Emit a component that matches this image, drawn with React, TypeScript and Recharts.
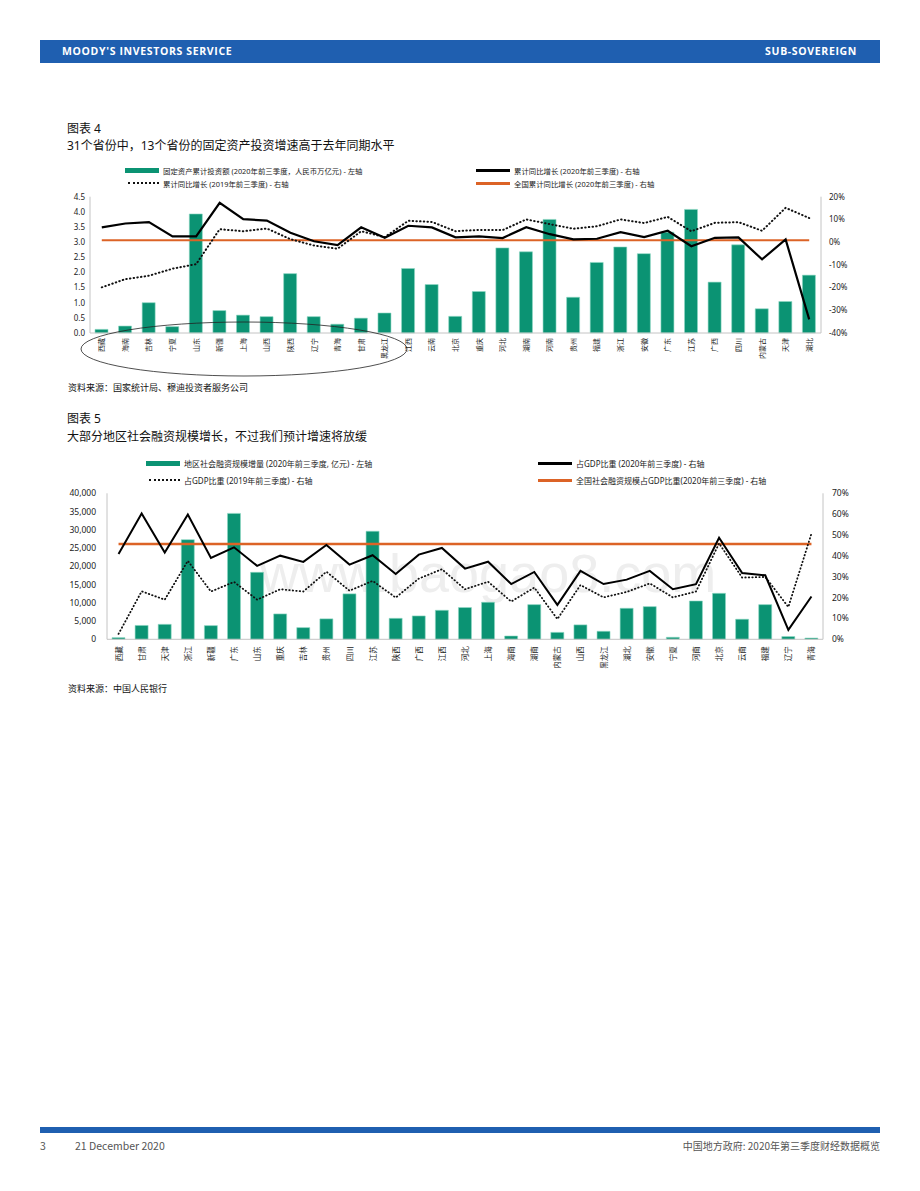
import { ComposedChart, Bar, Line, XAxis, YAxis, ReferenceLine } from 'recharts'

const FONT = '"Noto Sans", "Noto Sans CJK SC", sans-serif'
const GREEN = '#0b9373'
const ORANGE = '#dc6326'
const AXIS = '#c4c4c4'

// 图表 4: 固定资产投资
const faiProvinces = ['西藏', '海南', '吉林', '宁夏', '山东', '新疆', '上海', '山西', '陕西', '辽宁', '青海', '甘肃', '黑龙江', '江西', '云南', '北京', '重庆', '河北', '湖南', '河南', '贵州', '福建', '浙江', '安徽', '广东', '江苏', '广西', '四川', '内蒙古', '天津', '湖北']
const faiInvest = [0.12, 0.23, 1.0, 0.21, 3.93, 0.74, 0.59, 0.54, 1.96, 0.54, 0.29, 0.49, 0.66, 2.13, 1.6, 0.55, 1.37, 2.81, 2.68, 3.75, 1.18, 2.33, 2.84, 2.62, 3.33, 4.08, 1.68, 2.91, 0.8, 1.04, 1.91]
const faiGrowth2020 = [6.5, 8.2, 8.8, 2.5, 2.5, 17.3, 10.1, 9.5, 4.1, 0.4, -1.3, 6.5, 1.9, 7.2, 6.5, 2.1, 2.5, 1.8, 6.6, 3.5, 1.2, 1.5, 4.4, 2.2, 5.0, -1.8, 1.9, 2.1, -7.6, 1.2, -34.0]
const faiGrowth2019 = [-19.9, -16.3, -14.8, -11.7, -9.7, 5.7, 4.8, 6.0, 1.3, -1.5, -2.9, 4.8, 2.2, 9.4, 8.9, 4.8, 5.4, 5.3, 10.0, 7.9, 5.9, 7.0, 10.0, 8.4, 11.1, 4.8, 8.5, 8.8, 5.0, 15.1, 10.6]
const faiNational = 0.8
const faiLeftTicks = [0, 0.5, 1, 1.5, 2, 2.5, 3, 3.5, 4, 4.5]
const faiRightTicks = [-40, -30, -20, -10, 0, 10, 20]

// 图表 5: 社会融资规模
const tsfProvinces = ['西藏', '甘肃', '天津', '浙江', '新疆', '广东', '山东', '重庆', '吉林', '贵州', '四川', '江苏', '陕西', '广西', '江西', '河北', '上海', '海南', '湖南', '内蒙古', '山西', '黑龙江', '湖北', '安徽', '宁夏', '河南', '北京', '云南', '福建', '辽宁', '青海']
const tsfIncrease = [450, 3800, 4100, 27300, 3750, 34500, 18350, 6950, 3200, 5600, 12450, 29600, 5750, 6400, 7950, 8700, 10150, 900, 9500, 1900, 3950, 2200, 8500, 8950, 550, 10500, 12600, 5500, 9500, 750, 350]
const tsfRatio2020 = [40.9, 60.3, 41.6, 59.8, 39.0, 44.1, 35.2, 40.1, 37.1, 45.2, 35.8, 40.3, 31.3, 40.6, 43.8, 33.9, 37.2, 26.5, 32.3, 16.5, 32.8, 26.5, 28.6, 32.8, 24.0, 26.4, 48.7, 31.8, 30.7, 4.5, 20.5]
const tsfRatio2019 = [2.6, 23.0, 19.0, 37.6, 22.9, 27.5, 19.0, 24.0, 22.9, 32.4, 23.3, 28.0, 20.0, 29.1, 33.6, 24.0, 27.6, 18.1, 24.8, 9.7, 26.0, 20.1, 22.7, 26.8, 20.1, 22.9, 46.0, 29.6, 29.9, 15.5, 50.7]
const tsfNational = 45.7
const tsfLeftTicks = [0, 5000, 10000, 15000, 20000, 25000, 30000, 35000, 40000]
const tsfRightTicks = [0, 10, 20, 30, 40, 50, 60, 70]

const faiData = faiProvinces.map((name, i) => ({
  name,
  invest: faiInvest[i],
  g2020: faiGrowth2020[i],
  g2019: faiGrowth2019[i],
}))

const tsfData = tsfProvinces.map((name, i) => ({
  name,
  amount: tsfIncrease[i],
  r2020: tsfRatio2020[i],
  r2019: tsfRatio2019[i],
}))

function VerticalTick(props: any) {
  const { x, y, payload, size, gap } = props
  const ty = y + gap
  return (
    <text
      x={x}
      y={ty}
      transform={`rotate(-90 ${x} ${ty})`}
      textAnchor="end"
      dominantBaseline="central"
      fontSize={size}
      fill="#222"
      fontFamily={FONT}
    >
      {payload.value}
    </text>
  )
}

function LegendItem({ x, y, kind, label, size }: { x: number; y: number; kind: string; label: string; size: number }) {
  let swatch
  if (kind === 'bar') {
    swatch = <div style={{ width: 34, height: 5, background: GREEN }} />
  } else if (kind === 'dot') {
    swatch = <div style={{ width: 31, height: 0, borderTop: '2px dotted #111' }} />
  } else {
    swatch = <div style={{ width: 34, height: 3, background: kind === 'orange' ? ORANGE : '#000' }} />
  }
  return (
    <div
      style={{
        position: 'absolute',
        left: x,
        top: y - 7,
        height: 14,
        display: 'flex',
        alignItems: 'center',
        gap: 4,
        fontSize: size,
        fontFamily: FONT,
        color: '#222',
        whiteSpace: 'nowrap',
      }}
    >
      {swatch}
      <span>{label}</span>
    </div>
  )
}

const text = (left: number, top: number, size: number, content: string, extra: any = {}) => (
  <div style={{ position: 'absolute', left, top, fontSize: size, fontFamily: FONT, color: '#111', whiteSpace: 'nowrap', lineHeight: 1, ...extra }}>
    {content}
  </div>
)

const FOOT_FONT = '"Liberation Sans Narrow", "Noto Sans CJK SC", sans-serif'

export default function App() {
  return (
    <div style={{ position: 'absolute', left: 0, top: 0, width: 920, height: 1191, background: '#fff', overflow: 'hidden' }}>
      {/* header */}
      <div style={{ position: 'absolute', left: 40, top: 40, width: 840, height: 23, background: '#1f5fb0' }} />
      {text(62, 46, 10.5, "MOODY'S INVESTORS SERVICE", { color: '#fff', fontWeight: 700, fontFamily: '"Open Sans", sans-serif', letterSpacing: 0.65 })}
      <div style={{ position: 'absolute', right: 63, top: 46, fontSize: 10.5, fontWeight: 700, color: '#fff', fontFamily: '"Open Sans", sans-serif', letterSpacing: 0.65, lineHeight: 1 }}>
        SUB-SOVEREIGN
      </div>

      {/* 图表 4 */}
      {text(67, 123, 12, '图表 4')}
      {text(67, 140, 12, '31个省份中，13个省份的固定资产投资增速高于去年同期水平')}
      <LegendItem x={125} y={170} kind="bar" size={7.4} label="固定资产累计投资额 (2020年前三季度，人民币万亿元) - 左轴" />
      <LegendItem x={128} y={183} kind="dot" size={7.4} label="累计同比增长 (2019年前三季度) - 右轴" />
      <LegendItem x={476} y={170} kind="black" size={7.4} label="累计同比增长 (2020年前三季度) - 右轴" />
      <LegendItem x={476} y={183} kind="orange" size={7.4} label="全国累计同比增长 (2020年前三季度) - 右轴" />

      <div style={{ position: 'absolute', left: 0, top: 190 }}>
        <ComposedChart width={920} height={200} data={faiData} margin={{ top: 6.7, right: 59, bottom: 7, left: 60 }}>
          <XAxis
            dataKey="name"
            interval={0}
            height={50}
            tickLine={false}
            tickSize={0}
            tickMargin={0}
            stroke={AXIS}
            tick={(p: any) => <VerticalTick {...p} size={7} gap={5} />}
          />
          <YAxis
            yAxisId="left"
            width={30}
            type="number"
            domain={[0, 4.5]}
            ticks={faiLeftTicks}
            tickFormatter={(v: number) => v.toFixed(1)}
            tickLine={false}
            tickSize={0}
            tickMargin={5}
            stroke={AXIS}
            tick={{ fontSize: 8, fill: '#222', fontFamily: FONT }}
          />
          <YAxis
            yAxisId="right"
            orientation="right"
            width={40}
            type="number"
            domain={[-40, 20]}
            ticks={faiRightTicks}
            tickFormatter={(v: number) => `${v}%`}
            tickLine={false}
            tickSize={0}
            tickMargin={8}
            stroke={AXIS}
            tick={{ fontSize: 8, fill: '#222', fontFamily: FONT }}
          />
          <Bar yAxisId="left" dataKey="invest" fill={GREEN} stroke="#8fd9c5" strokeWidth={0.6} barSize={13} isAnimationActive={false} />
          <ReferenceLine
            yAxisId="right"
            segment={[{ x: faiProvinces[0], y: faiNational }, { x: faiProvinces[faiProvinces.length - 1], y: faiNational }]}
            stroke={ORANGE}
            strokeWidth={2}
          />
          <Line yAxisId="right" dataKey="g2019" stroke="#111" strokeWidth={2} strokeDasharray="0.5 3.2" strokeLinecap="round" dot={false} activeDot={false} isAnimationActive={false} />
          <Line yAxisId="right" dataKey="g2020" stroke="#000" strokeWidth={2.2} dot={false} activeDot={false} isAnimationActive={false} />
        </ComposedChart>
      </div>
      <svg style={{ position: 'absolute', left: 0, top: 0 }} width={920} height={400}>
        <ellipse cx={244} cy={349} rx={163} ry={27} fill="none" stroke="#222" strokeWidth={0.8} />
      </svg>

      {text(68, 383, 9, '资料来源：国家统计局、穆迪投资者服务公司')}

      {/* 图表 5 */}
      {text(67, 413, 12, '图表 5')}
      {text(67, 431, 12, '大部分地区社会融资规模增长，不过我们预计增速将放缓')}
      <LegendItem x={146} y={463} kind="bar" size={8} label="地区社会融资规模增量 (2020年前三季度, 亿元) - 左轴" />
      <LegendItem x={149} y={480} kind="dot" size={8} label="占GDP比重 (2019年前三季度) - 右轴" />
      <LegendItem x={538} y={463} kind="black" size={8} label="占GDP比重 (2020年前三季度) - 右轴" />
      <LegendItem x={538} y={480} kind="orange" size={8} label="全国社会融资规模占GDP比重(2020年前三季度) - 右轴" />

      <svg style={{ position: 'absolute', left: 0, top: 0 }} width={920} height={700}>
        <text x={260} y={592} fontSize={54} fill="#eeeeee" fontFamily='"Liberation Sans", Arial, sans-serif'>www.baogao8.com</text>
      </svg>

      <div style={{ position: 'absolute', left: 0, top: 485 }}>
        <ComposedChart width={920} height={210} data={tsfData} margin={{ top: 8.3, right: 52, bottom: 5.7, left: 62 }}>
          <XAxis
            dataKey="name"
            interval={0}
            height={50}
            tickLine={false}
            tickSize={0}
            tickMargin={0}
            stroke={AXIS}
            tick={(p: any) => <VerticalTick {...p} size={7.5} gap={7} />}
          />
          <YAxis
            yAxisId="left"
            width={45}
            type="number"
            domain={[0, 40000]}
            ticks={tsfLeftTicks}
            tickFormatter={(v: number) => v.toLocaleString('en-US')}
            tickLine={false}
            tickSize={0}
            tickMargin={11}
            stroke={AXIS}
            tick={{ fontSize: 8.5, fill: '#222', fontFamily: FONT }}
          />
          <YAxis
            yAxisId="right"
            orientation="right"
            width={45}
            type="number"
            domain={[0, 70]}
            ticks={tsfRightTicks}
            tickFormatter={(v: number) => `${v}%`}
            tickLine={false}
            tickSize={0}
            tickMargin={9}
            stroke={AXIS}
            tick={{ fontSize: 8.5, fill: '#222', fontFamily: FONT }}
          />
          <Bar yAxisId="left" dataKey="amount" fill={GREEN} stroke="#8fd9c5" strokeWidth={0.6} barSize={13} isAnimationActive={false} />
          <ReferenceLine
            yAxisId="right"
            segment={[{ x: tsfProvinces[0], y: tsfNational }, { x: tsfProvinces[tsfProvinces.length - 1], y: tsfNational }]}
            stroke={ORANGE}
            strokeWidth={2.5}
          />
          <Line yAxisId="right" dataKey="r2019" stroke="#111" strokeWidth={1.8} strokeDasharray="0.5 3" strokeLinecap="round" dot={false} activeDot={false} isAnimationActive={false} />
          <Line yAxisId="right" dataKey="r2020" stroke="#000" strokeWidth={2} dot={false} activeDot={false} isAnimationActive={false} />
        </ComposedChart>
      </div>

      {text(68, 684, 9, '资料来源：中国人民银行')}

      {/* footer */}
      <div style={{ position: 'absolute', left: 40, top: 1127, width: 840, height: 6, background: '#1f5fb0' }} />
      {text(40, 1141, 10.5, '3', { color: '#555', fontFamily: FOOT_FONT })}
      {text(75, 1141, 10.5, '21 December 2020', { color: '#555', fontFamily: FOOT_FONT })}
      <div style={{ position: 'absolute', right: 40, top: 1141, fontSize: 10, color: '#555', lineHeight: 1, fontFamily: FOOT_FONT, whiteSpace: 'nowrap' }}>
        中国地方政府: 2020年第三季度财经数据概览
      </div>
    </div>
  )
}
